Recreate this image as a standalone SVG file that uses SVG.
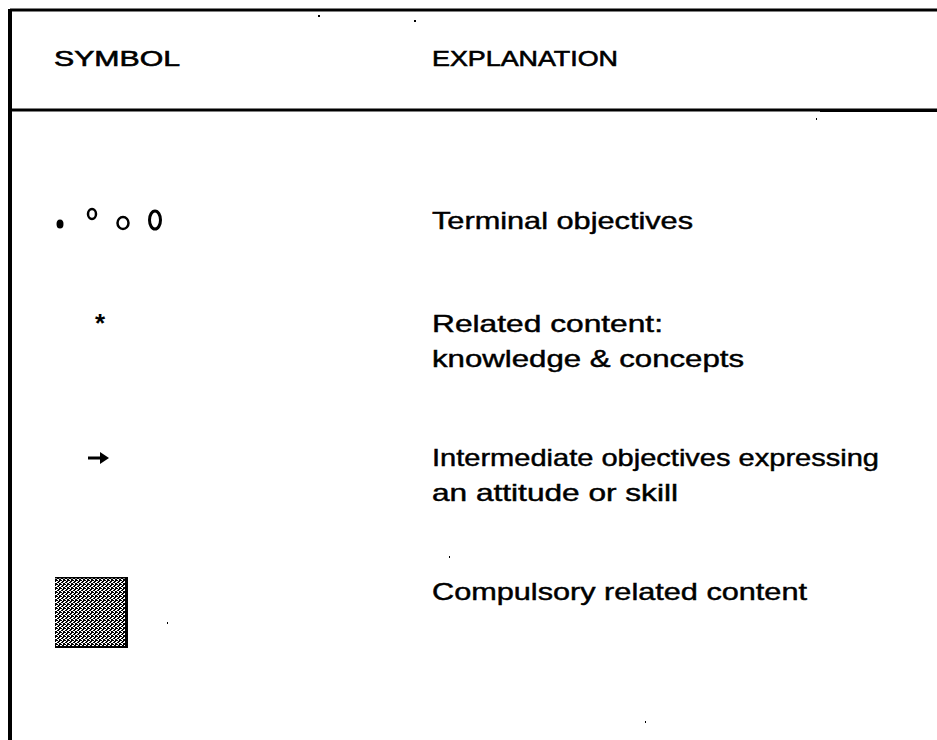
<svg xmlns="http://www.w3.org/2000/svg" width="937" height="740" viewBox="0 0 937 740">
  <defs>
    <style>
      .hdr { font-family: "Liberation Sans", Arial, sans-serif; font-size: 22px; fill: #000; stroke: #000; stroke-width: 0.6px; }
      .txt { font-family: "Liberation Sans", Arial, sans-serif; font-size: 24px; fill: #000; stroke: #000; stroke-width: 0.45px; }
      .sym { font-family: "Liberation Sans", Arial, sans-serif; font-weight: bold; fill: #000; }
      .rule { stroke: #000; fill: none; }
      .speck { fill: #000; }
    </style>
    <pattern id="dither" width="4" height="4" patternUnits="userSpaceOnUse">
      <rect width="4" height="4" fill="#fff"/>
      <rect x="0" y="0" width="2" height="1" fill="#000"/>
      <rect x="2" y="1" width="2" height="1" fill="#000"/>
      <rect x="1" y="2" width="2" height="1" fill="#000"/>
      <rect x="3" y="3" width="1" height="1" fill="#000"/>
      <rect x="0" y="3" width="1" height="1" fill="#000"/>
      <rect x="3" y="0" width="1" height="1" fill="#000"/>
    </pattern>
  </defs>
  <rect width="937" height="740" fill="#fff"/>

  <g id="frame">
    <line class="rule" x1="10" y1="10" x2="937" y2="10" stroke-width="3"/>
    <line class="rule" x1="10" y1="110" x2="937" y2="110" stroke-width="3"/>
    <line class="rule" x1="820" y1="111" x2="937" y2="111" stroke-width="2"/>
    <line class="rule" x1="10" y1="9" x2="10" y2="740" stroke-width="4"/>
    <rect class="speck" x="318" y="15" width="2" height="2"/>
    <rect class="speck" x="414" y="20" width="2" height="2"/>
    <rect class="speck" x="816" y="118" width="1" height="2"/>
    <rect class="speck" x="449" y="556" width="1" height="2"/>
    <rect class="speck" x="167" y="622" width="1" height="2"/>
    <rect class="speck" x="645" y="721" width="1" height="2"/>
  </g>

  <g id="header">
    <text class="hdr" x="54" y="66" textLength="126" lengthAdjust="spacingAndGlyphs">SYMBOL</text>
    <text class="hdr" x="432" y="66" textLength="186" lengthAdjust="spacingAndGlyphs">EXPLANATION</text>
  </g>

  <g id="row-terminal">
    <ellipse cx="60" cy="224" rx="3.5" ry="4.5" fill="#000"/>
    <ellipse cx="92" cy="214" rx="4" ry="5" fill="none" stroke="#000" stroke-width="2.5"/>
    <ellipse cx="123" cy="223" rx="5.5" ry="6" fill="none" stroke="#000" stroke-width="2.5"/>
    <ellipse cx="155" cy="220" rx="5.5" ry="9" fill="none" stroke="#000" stroke-width="3"/>
    <text class="txt" x="432" y="229" textLength="261" lengthAdjust="spacingAndGlyphs">Terminal objectives</text>
  </g>

  <g id="row-related">
    <text class="sym" x="100" y="332" font-size="26" text-anchor="middle">*</text>
    <text class="txt" x="432" y="332" textLength="231" lengthAdjust="spacingAndGlyphs">Related content:</text>
    <text class="txt" x="432" y="367" textLength="312" lengthAdjust="spacingAndGlyphs">knowledge &amp; concepts</text>
  </g>

  <g id="row-intermediate">
    <line x1="88" y1="458" x2="102" y2="458" stroke="#000" stroke-width="3"/>
    <path d="M100 452 L109 458 L100 464 Z" fill="#000"/>
    <text class="txt" x="432" y="466" textLength="447" lengthAdjust="spacingAndGlyphs">Intermediate objectives expressing</text>
    <text class="txt" x="432" y="501" textLength="246" lengthAdjust="spacingAndGlyphs">an attitude or skill</text>
  </g>

  <g id="row-compulsory">
    <rect x="55" y="577" width="72" height="71" fill="url(#dither)"/>
    <rect x="125" y="577" width="3" height="71" fill="#000"/>
    <rect x="55" y="577" width="72" height="1.5" fill="#000"/>
    <rect x="55" y="646" width="73" height="2" fill="#000"/>
    <text class="txt" x="432" y="600" textLength="375" lengthAdjust="spacingAndGlyphs">Compulsory related content</text>
  </g>
</svg>
